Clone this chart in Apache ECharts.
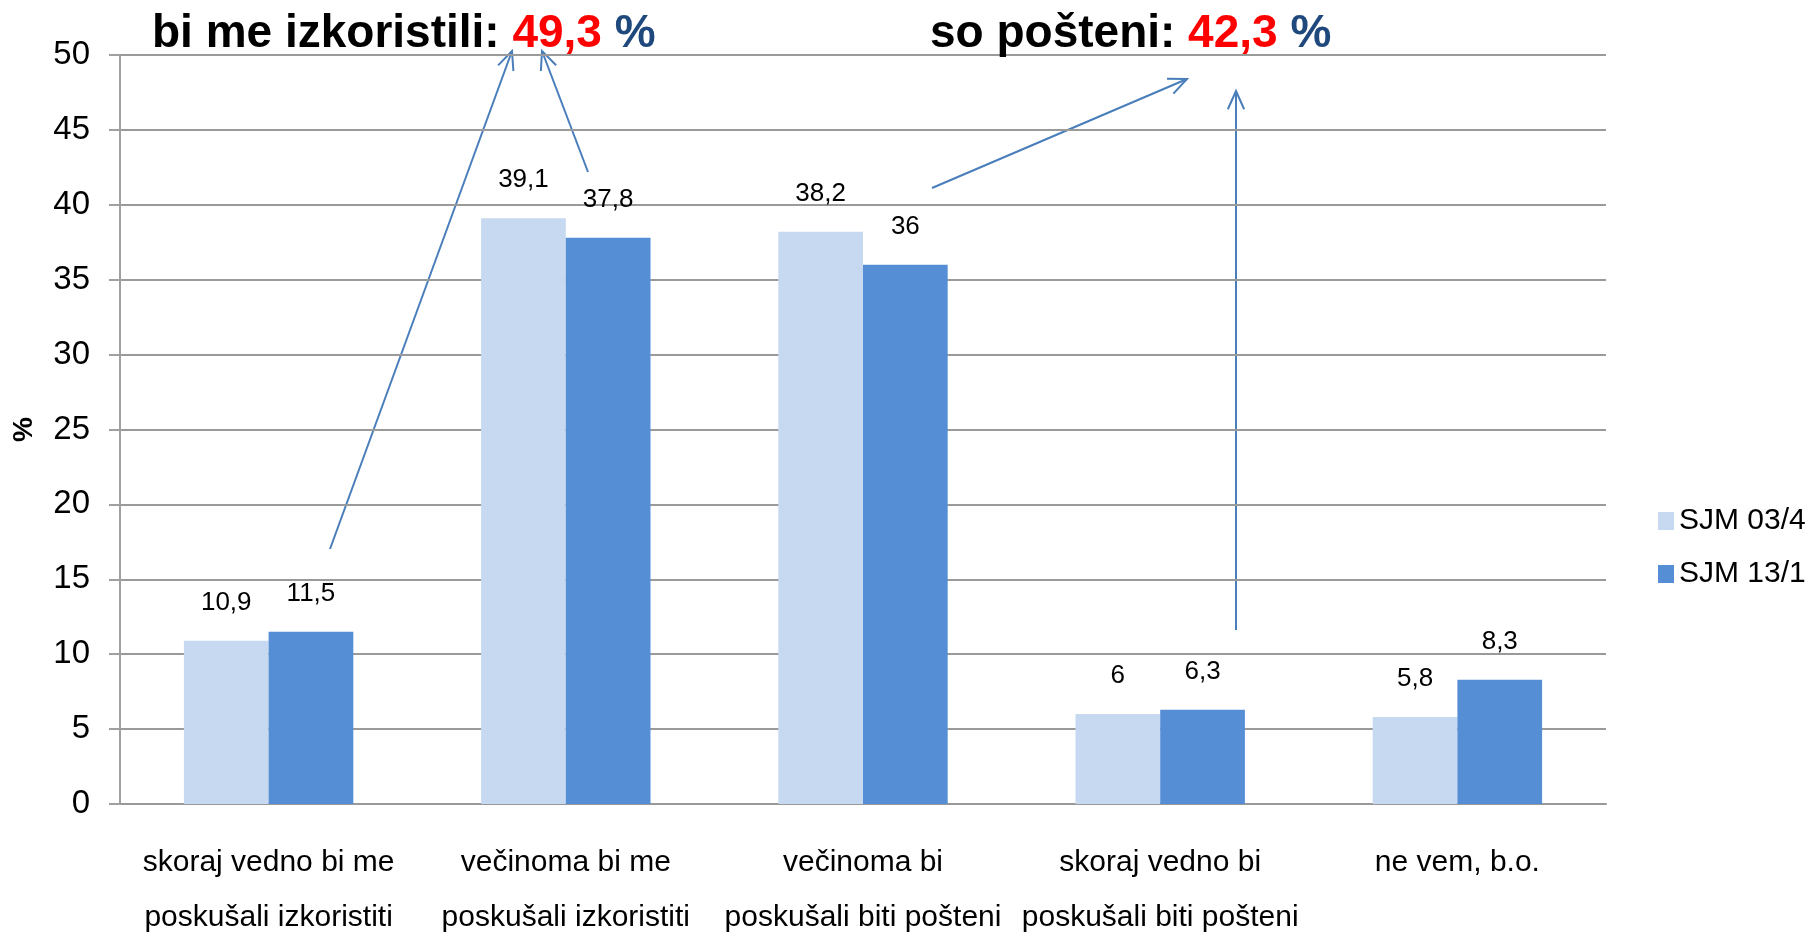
<!DOCTYPE html>
<html>
<head>
<meta charset="utf-8">
<script src="https://cdn.jsdelivr.net/npm/echarts@6/dist/echarts.min.js"></script>
<style>
  html, body { margin: 0; padding: 0; background: #fff; }
  #chart { width: 1812px; height: 935px; }
</style>
</head>
<body>
<div id="chart"></div>
<script>
// data
const categories = [
  'skoraj vedno bi me\nposkušali izkoristiti',
  'večinoma bi me\nposkušali izkoristiti',
  'večinoma bi\nposkušali biti pošteni',
  'skoraj vedno bi\nposkušali biti pošteni',
  'ne vem, b.o.'
]
const seriesNames = ['SJM 03/4', 'SJM 13/1']
const sjm034 = [10.9, 39.1, 38.2, 6, 5.8]
const sjm131 = [11.5, 37.8, 36, 6.3, 8.3]
const yTicks = [0, 50, 5] // min, max, interval

const font = "'Liberation Sans', Arial, sans-serif"
const arrowColor = '#4a7ebb'

// annotation arrows [x1, y1, x2(tip), y2(tip)]
const arrows = [
  [330, 549, 512, 51],
  [588, 172, 542, 51],
  [932, 188, 1187, 79],
  [1236, 630, 1236, 91]
]

function arrowGraphics(){
  let out = []
  arrows.forEach(a => {
    let [x1, y1, x2, y2] = a
    let ang = Math.atan2(y1 - y2, x1 - x2)
    let len = 20, spread = 0.42
    let p1 = [x2 + len * Math.cos(ang - spread), y2 + len * Math.sin(ang - spread)]
    let p2 = [x2 + len * Math.cos(ang + spread), y2 + len * Math.sin(ang + spread)]
    out.push({
      type: 'line', silent: true,
      shape: { x1: x1, y1: y1, x2: x2, y2: y2 },
      style: { stroke: arrowColor, lineWidth: 2 }
    })
    out.push({
      type: 'polyline', silent: true,
      shape: { points: [p1, [x2, y2], p2] },
      style: { stroke: arrowColor, lineWidth: 2, fill: null }
    })
  })
  return out
}

const titleRich = {
  a: { fontFamily: font, fontWeight: 'bold', fontSize: 46, lineHeight: 46, color: '#000' },
  b: { fontFamily: font, fontWeight: 'bold', fontSize: 46, lineHeight: 46, color: '#ff0000' },
  c: { fontFamily: font, fontWeight: 'bold', fontSize: 46, lineHeight: 46, color: '#1f497d' }
}

const labelFmt = p => String(p.value).replace('.', ',')

let myChart = echarts.init(document.getElementById('chart'))
myChart.setOption({
  backgroundColor: '#fff',
  animation: false,
  title: [{
    text: '{a|bi me izkoristili: }{b|49,3}{c| %}',
    left: 152, top: 11, padding: 0,
    textStyle: { rich: titleRich }
  }, {
    text: '{a|so pošteni: }{b|42,3}{c| %}',
    left: 930, top: 11, padding: 0,
    textStyle: { rich: titleRich }
  }],
  legend: {
    orient: 'vertical',
    left: 1658, top: 503, padding: 0,
    itemWidth: 16, itemHeight: 18, itemGap: 17,
    icon: 'rect',
    textStyle: { fontFamily: font, fontSize: 30, lineHeight: 36, color: '#000' },
    data: seriesNames
  },
  grid: { left: 120, right: 206, top: 55, bottom: 131, outerBoundsMode: 'none', containLabel: false },
  xAxis: {
    type: 'category',
    data: categories,
    axisTick: { show: false },
    axisLine: { lineStyle: { color: '#999', width: 2 } },
    axisLabel: {
      fontFamily: font, fontSize: 30, color: '#000',
      lineHeight: 55, margin: 31, interval: 0
    }
  },
  yAxis: {
    type: 'value',
    min: yTicks[0], max: yTicks[1], interval: yTicks[2],
    name: '%',
    nameLocation: 'middle',
    nameRotate: 90,
    nameGap: 82,
    nameTextStyle: { fontFamily: font, fontWeight: 'bold', fontSize: 28, color: '#000' },
    axisLine: { show: true, lineStyle: { color: '#a0a0a0', width: 2 } },
    axisTick: { show: true, length: 11, lineStyle: { color: '#a0a0a0', width: 2 } },
    axisLabel: { fontFamily: font, fontSize: 33, color: '#000', margin: 30 },
    splitLine: { lineStyle: { color: '#9a9a9a', width: 2 } }
  },
  series: [{
    name: seriesNames[0],
    type: 'bar',
    data: sjm034,
    barGap: '0%',
    barCategoryGap: '43%',
    itemStyle: { color: '#c6d9f1' },
    label: {
      show: true, position: 'top', distance: 25,
      fontFamily: font, fontSize: 26, color: '#000',
      formatter: labelFmt
    }
  }, {
    name: seriesNames[1],
    type: 'bar',
    data: sjm131,
    barGap: '0%',
    barCategoryGap: '43%',
    itemStyle: { color: '#558ed5' },
    label: {
      show: true, position: 'top', distance: 25,
      fontFamily: font, fontSize: 26, color: '#000',
      formatter: labelFmt
    }
  }],
  graphic: arrowGraphics()
})
</script>
</body>
</html>
